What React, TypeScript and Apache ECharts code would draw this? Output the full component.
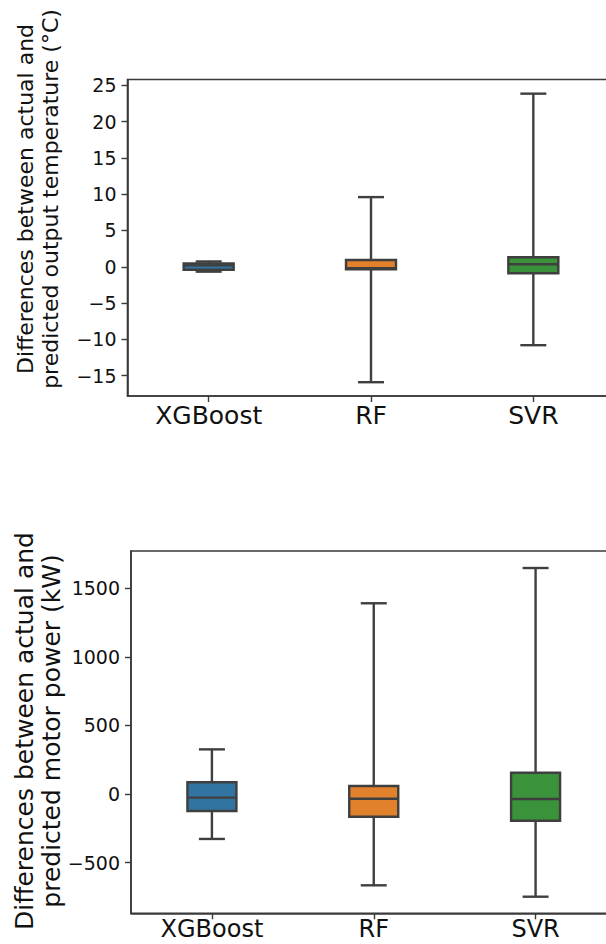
import React, { useEffect, useRef } from "react";
import * as echarts from "echarts";

// ---- data ----
const categories = ["XGBoost", "RF", "SVR"];

// Output temperature differences (°C)
const tempMin = [-0.67, -15.9, -10.8];
const tempQ1 = [-0.4, -0.35, -0.9];
const tempMedian = [0.2, -0.2, 0.34];
const tempQ3 = [0.45, 0.94, 1.31];
const tempMax = [0.73, 9.6, 23.85];
const tempTicks = [-15, -10, -5, 0, 5, 10, 15, 20, 25];

// Motor power differences (kW)
const powerMin = [-327, -665, -748];
const powerQ1 = [-123, -165, -194];
const powerMedian = [-26, -34, -36];
const powerQ3 = [86, 59, 156];
const powerMax = [326, 1391, 1648];
const powerTicks = [-500, 0, 500, 1000, 1500];

const tempTitle = "Differences between actual and\npredicted output temperature (°C)";
const powerTitle = "Differences between actual and\npredicted motor power (kW)";

// ---- styles ----
const palette = ["#3274a1", "#e1812c", "#3a923a"];
const edgeColor = "#3f3f3f";
const frameColor = "#3a3a3a";
const FONT = "DejaVu Sans";

function buildRows(mn: number[], q1: number[], md: number[], q3: number[], mx: number[]) {
  return categories.map((_, i) => [i, mn[i], q1[i], md[i], q3[i], mx[i]]);
}

function makeRenderItem(boxWidth: number, capWidth: number) {
  return (params: any, api: any) => {
    const idx = api.value(0);
    const lo = api.coord([idx, api.value(1)]);
    const q1 = api.coord([idx, api.value(2)]);
    const md = api.coord([idx, api.value(3)]);
    const q3 = api.coord([idx, api.value(4)]);
    const hi = api.coord([idx, api.value(5)]);
    const x = lo[0];
    const lw = 2.4;
    const lineStyle = { stroke: edgeColor, lineWidth: lw, lineCap: "butt" };
    return {
      type: "group",
      children: [
        { type: "line", shape: { x1: x, y1: hi[1], x2: x, y2: q3[1] }, style: lineStyle },
        { type: "line", shape: { x1: x, y1: q1[1], x2: x, y2: lo[1] }, style: lineStyle },
        { type: "line", shape: { x1: x - capWidth / 2, y1: hi[1], x2: x + capWidth / 2, y2: hi[1] }, style: lineStyle },
        { type: "line", shape: { x1: x - capWidth / 2, y1: lo[1], x2: x + capWidth / 2, y2: lo[1] }, style: lineStyle },
        {
          type: "rect",
          shape: { x: x - boxWidth / 2, y: q3[1], width: boxWidth, height: q1[1] - q3[1] },
          style: { fill: palette[idx], stroke: edgeColor, lineWidth: lw },
        },
        { type: "line", shape: { x1: x - boxWidth / 2, y1: md[1], x2: x + boxWidth / 2, y2: md[1] }, style: lineStyle },
      ],
    };
  };
}

const minusFmt = (v: number) => String(v).replace("-", "\u2212");

function valueAxis(gridIndex: number, min: number, max: number, ticks: number[]) {
  return {
    type: "value",
    gridIndex,
    min,
    max,
    splitLine: { show: false },
    axisLine: { show: true, onZero: false, lineStyle: { color: frameColor, width: 1.6 } },
    axisTick: { show: true, length: 6, customValues: ticks, lineStyle: { color: frameColor, width: 1.4 } },
    axisLabel: {
      customValues: ticks,
      margin: 11,
      fontFamily: FONT,
      fontSize: 19,
      color: "#111",
      formatter: minusFmt,
    },
  };
}

function categoryAxis(gridIndex: number, fontSize: number, margin: number) {
  return {
    type: "category",
    gridIndex,
    data: categories,
    boundaryGap: true,
    axisLine: { show: true, onZero: false, lineStyle: { color: frameColor, width: 1.6 } },
    axisTick: { show: true, alignWithLabel: true, length: 6, lineStyle: { color: frameColor, width: 1.4 } },
    axisLabel: { margin, lineHeight: 18, fontFamily: FONT, fontSize, color: "#111", interval: 0 },
    splitLine: { show: false },
  };
}

export default function App() {
  const ref = useRef<HTMLDivElement>(null);
  useEffect(() => {
    if (!ref.current) return;
    const chart = echarts.init(ref.current, undefined, { renderer: "svg" });
    chart.setOption({
      animation: false,
      backgroundColor: "#ffffff",
      grid: [
        {
          left: 127.5, top: 79.5, width: 487, height: 316.5,
          show: true, borderColor: frameColor, borderWidth: 1.6, backgroundColor: "transparent",
          containLabel: false, outerBoundsMode: "none",
        },
        {
          left: 131, top: 551, width: 485.5, height: 362.3,
          show: true, borderColor: frameColor, borderWidth: 1.6, backgroundColor: "transparent",
          containLabel: false, outerBoundsMode: "none",
        },
      ],
      xAxis: [categoryAxis(0, 25, 10), categoryAxis(1, 24, 7)],
      yAxis: [valueAxis(0, -17.8, 25.8, tempTicks), valueAxis(1, -869, 1772, powerTicks)],
      series: [
        {
          type: "custom",
          xAxisIndex: 0,
          yAxisIndex: 0,
          renderItem: makeRenderItem(50, 26),
          encode: { x: 0, y: [1, 2, 3, 4, 5] },
          data: buildRows(tempMin, tempQ1, tempMedian, tempQ3, tempMax),
          z: 3,
        },
        {
          type: "custom",
          xAxisIndex: 1,
          yAxisIndex: 1,
          renderItem: makeRenderItem(49, 26),
          encode: { x: 0, y: [1, 2, 3, 4, 5] },
          data: buildRows(powerMin, powerQ1, powerMedian, powerQ3, powerMax),
          z: 3,
        },
      ],
      graphic: [
        {
          type: "text",
          x: 37.5,
          y: 199,
          rotation: Math.PI / 2,
          style: {
            text: tempTitle,
            fontFamily: FONT,
            fontSize: 22,
            lineHeight: 25,
            fill: "#111",
            align: "center",
            verticalAlign: "middle",
          },
        },
        {
          type: "text",
          x: 38,
          y: 731,
          rotation: Math.PI / 2,
          style: {
            text: powerTitle,
            fontFamily: FONT,
            fontSize: 25,
            lineHeight: 27,
            fill: "#111",
            align: "center",
            verticalAlign: "middle",
          },
        },
      ],
    });
    return () => chart.dispose();
  }, []);
  return (
    <div
      ref={ref}
      style={{ position: "absolute", left: 0, top: 0, width: 606, height: 944, overflow: "hidden", background: "#fff" }}
    />
  );
}
